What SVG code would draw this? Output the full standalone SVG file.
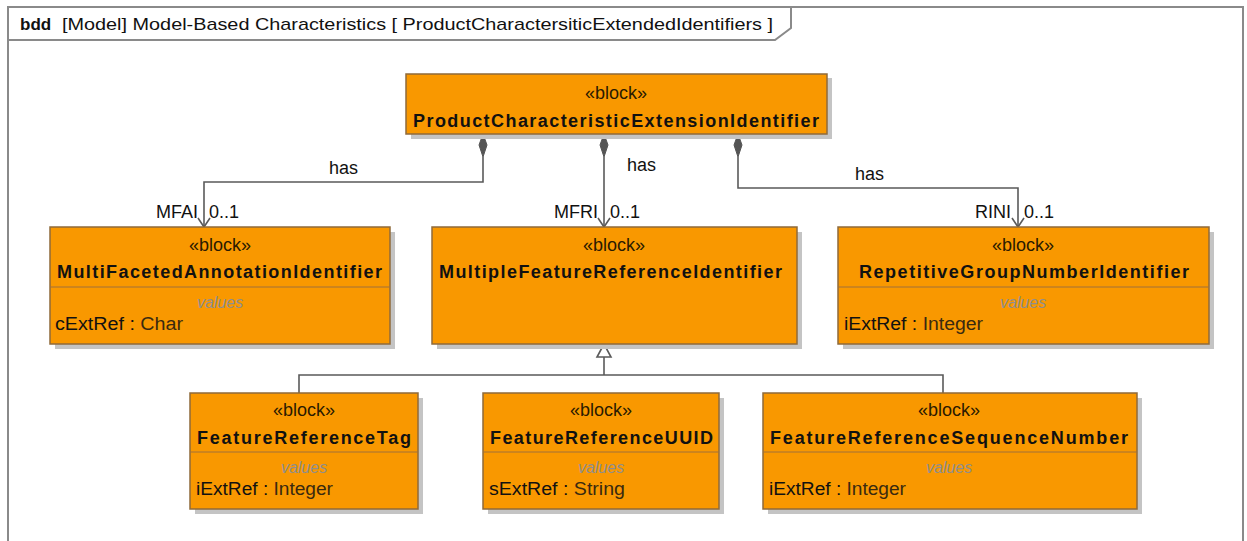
<svg xmlns="http://www.w3.org/2000/svg" width="1247" height="541" viewBox="0 0 1247 541">
<style>
.frame{fill:none;stroke:#8a8a8a;stroke-width:2}
.shadow{fill:#c4c4c4}
.box{fill:#F99800;stroke:#8f6a3a;stroke-width:1.5}
.div{stroke:#a0703a;stroke-width:1}
.st{font-family:"Liberation Sans",Arial,sans-serif;font-size:18px;fill:#2a1a00;text-anchor:middle}
.nm{font-family:"Liberation Sans",Arial,sans-serif;font-size:18px;font-weight:bold;fill:#111}
.vl{font-family:"Liberation Sans",Arial,sans-serif;font-size:16px;font-style:italic;fill:#8e8e8e;text-anchor:middle}
.at{font-family:"Liberation Sans",Arial,sans-serif;font-size:18px;fill:#111}
.ty{fill:#3a2a10}
.lbl{font-family:"Liberation Sans",Arial,sans-serif;font-size:18px;fill:#111}
.ln{fill:none;stroke:#5a5a5a;stroke-width:1.6}
.dia{fill:#555;stroke:#555;stroke-width:1}
</style>
<rect width="1247" height="541" fill="#fff"/>
<g id="frame">
<path class="frame" d="M8,545 V7 H1243 V545"/>
<path class="frame" d="M8,40 H775 L791,28 V7"/>
<text x="20" y="30" font-family="'Liberation Sans',Arial,sans-serif" font-size="17" font-weight="bold" fill="#111">bdd</text>
<text x="62" y="30" font-family="'Liberation Sans',Arial,sans-serif" font-size="17" fill="#111" textLength="711" lengthAdjust="spacingAndGlyphs">[Model] Model-Based Characteristics [ ProductCharactersiticExtendedIdentifiers ]</text>
</g>
<g id="connectors">
<path class="ln" d="M483,157 V182 H204 V227"/>
<path class="ln" d="M604,157 V227"/>
<path class="ln" d="M738,157 V188 H1018 V227"/>
<polygon class="dia" points="483,134 487,145 483,157 479,145"/>
<polygon class="dia" points="604,134 608,145 604,157 600,145"/>
<polygon class="dia" points="738,134 742,145 738,157 734,145"/>
<polyline class="ln" points="198,218 204,227 210,218"/>
<polyline class="ln" points="598,218 604,227 610,218"/>
<polyline class="ln" points="1012,218 1018,227 1024,218"/>
<text class="lbl" x="329" y="174">has</text>
<text class="lbl" x="627" y="171">has</text>
<text class="lbl" x="855" y="180">has</text>
<text class="lbl" x="198" y="218" text-anchor="end">MFAI</text>
<text class="lbl" x="209" y="218">0..1</text>
<text class="lbl" x="598" y="218" text-anchor="end">MFRI</text>
<text class="lbl" x="610" y="218">0..1</text>
<text class="lbl" x="1011" y="218" text-anchor="end">RINI</text>
<text class="lbl" x="1024" y="218">0..1</text>
<path class="ln" d="M604,357 V375"/>
<path class="ln" d="M299,393 V375 H943 V393"/>
<polygon points="604,344 597,357 611,357" fill="#fff" stroke="#5a5a5a" stroke-width="1.6"/>
</g>
<g id="ProductCharacteristicExtensionIdentifier">
<rect class="shadow" x="411" y="78" width="421" height="61"/>
<rect class="box" x="406" y="74" width="421" height="60"/>
<text class="st" x="616" y="99">«block»</text>
<text class="nm" x="413" y="127" textLength="406" lengthAdjust="spacing">ProductCharacteristicExtensionIdentifier</text>
</g>
<g id="MultiFacetedAnnotationIdentifier">
<rect class="shadow" x="55" y="232" width="340" height="117"/>
<rect class="box" x="50" y="227" width="340" height="117"/>
<line class="div" x1="50" y1="287" x2="390" y2="287"/>
<text class="st" x="220" y="251">«block»</text>
<text class="nm" x="57" y="278" textLength="325" lengthAdjust="spacing">MultiFacetedAnnotationIdentifier</text>
<text class="vl" x="220" y="308">values</text>
<text class="at" x="55" y="330" textLength="128" lengthAdjust="spacingAndGlyphs">cExtRef : <tspan class="ty">Char</tspan></text>
</g>
<g id="MultipleFeatureReferenceIdentifier">
<rect class="shadow" x="437" y="232" width="365" height="117"/>
<rect class="box" x="432" y="227" width="365" height="117"/>
<text class="st" x="614" y="251">«block»</text>
<text class="nm" x="439" y="278" textLength="343" lengthAdjust="spacing">MultipleFeatureReferenceIdentifier</text>
</g>
<g id="RepetitiveGroupNumberIdentifier">
<rect class="shadow" x="843" y="232" width="371" height="117"/>
<rect class="box" x="838" y="227" width="371" height="117"/>
<line class="div" x1="838" y1="287" x2="1209" y2="287"/>
<text class="st" x="1023" y="251">«block»</text>
<text class="nm" x="859" y="278" textLength="330" lengthAdjust="spacing">RepetitiveGroupNumberIdentifier</text>
<text class="vl" x="1023" y="308">values</text>
<text class="at" x="844" y="330" textLength="139" lengthAdjust="spacingAndGlyphs">iExtRef : <tspan class="ty">Integer</tspan></text>
</g>
<g id="FeatureReferenceTag">
<rect class="shadow" x="195" y="398" width="228" height="116"/>
<rect class="box" x="190" y="393" width="228" height="116"/>
<line class="div" x1="190" y1="452" x2="418" y2="452"/>
<text class="st" x="304" y="416">«block»</text>
<text class="nm" x="197" y="444" textLength="214" lengthAdjust="spacing">FeatureReferenceTag</text>
<text class="vl" x="304" y="473">values</text>
<text class="at" x="196" y="495" textLength="137" lengthAdjust="spacingAndGlyphs">iExtRef : <tspan class="ty">Integer</tspan></text>
</g>
<g id="FeatureReferenceUUID">
<rect class="shadow" x="488" y="398" width="236" height="116"/>
<rect class="box" x="483" y="393" width="236" height="116"/>
<line class="div" x1="483" y1="452" x2="719" y2="452"/>
<text class="st" x="601" y="416">«block»</text>
<text class="nm" x="490" y="444" textLength="223" lengthAdjust="spacing">FeatureReferenceUUID</text>
<text class="vl" x="601" y="473">values</text>
<text class="at" x="489" y="495" textLength="136" lengthAdjust="spacingAndGlyphs">sExtRef : <tspan class="ty">String</tspan></text>
</g>
<g id="FeatureReferenceSequenceNumber">
<rect class="shadow" x="768" y="398" width="374" height="116"/>
<rect class="box" x="763" y="393" width="374" height="116"/>
<line class="div" x1="763" y1="452" x2="1137" y2="452"/>
<text class="st" x="949" y="416">«block»</text>
<text class="nm" x="770" y="444" textLength="358" lengthAdjust="spacing">FeatureReferenceSequenceNumber</text>
<text class="vl" x="949" y="473">values</text>
<text class="at" x="769" y="495" textLength="137" lengthAdjust="spacingAndGlyphs">iExtRef : <tspan class="ty">Integer</tspan></text>
</g>
</svg>
